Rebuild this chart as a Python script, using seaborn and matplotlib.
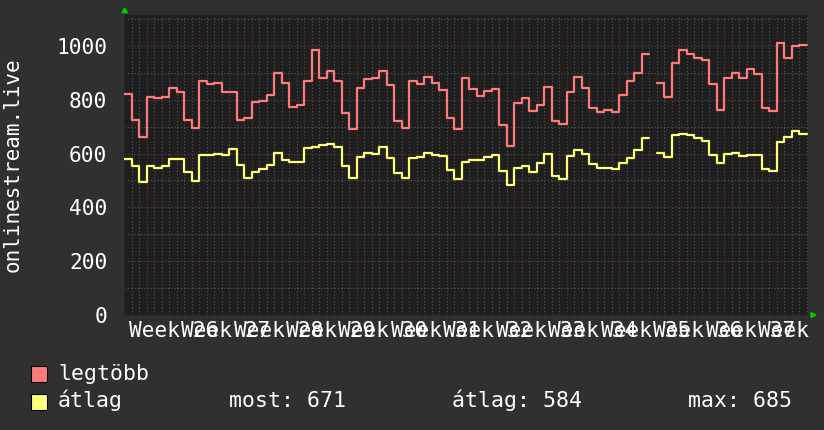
import numpy as np
import pandas as pd
import matplotlib
matplotlib.use("Agg")
import matplotlib.pyplot as plt
import seaborn as sns
from matplotlib.patches import Rectangle, Polygon
from matplotlib.transforms import Bbox, TransformedBbox

# daily values, one per day (nan = missing)
days = np.arange(91)
legtobb = [822, 725, 663, 809, 806, 810, 845, 830, 725, 694,
           871, 857, 861, 830, 828, 725, 732, 792, 794, 818,
           901, 861, 774, 781, 870, 985, 880, 908, 870, 750,
           691, 843, 876, 882, 908, 855, 722, 694, 871, 857,
           886, 864, 836, 733, 691, 880, 840, 814, 833, 840,
           706, 628, 789, 805, 760, 781, 849, 722, 710, 828,
           886, 843, 768, 756, 762, 756, 818, 869, 900, 969,
           np.nan, 861, 809, 938, 985, 970, 955, 946, 857, 762,
           880, 901, 880, 914, 897, 771, 760, 1012, 955, 998,
           1004]
atlag = [579, 554, 496, 554, 548, 554, 579, 579, 533, 499,
         595, 595, 598, 595, 618, 558, 510, 530, 543, 558,
         601, 576, 568, 568, 620, 623, 632, 636, 626, 554,
         510, 589, 601, 598, 623, 582, 529, 508, 585, 589,
         601, 595, 592, 539, 504, 568, 576, 576, 589, 595,
         535, 483, 545, 554, 533, 566, 598, 517, 504, 592,
         613, 598, 561, 548, 548, 542, 566, 583, 613, 657,
         np.nan, 603, 586, 668, 673, 668, 659, 648, 595, 564,
         598, 601, 591, 595, 595, 542, 537, 644, 663, 685,
         671]
week_labels = ["Week %d" % w for w in range(26, 39)]
series_names = ["legtöbb", "átlag"]
line_colors = {"legtöbb": "#ff7b7b", "átlag": "#ffff7b"}
stats_text = ["most: 671", "átlag: 584", "max: 685"]

# long table, split at gaps, with a closing point so each step has full width
rows = []
for name, vals in zip(series_names, [legtobb, atlag]):
    vals = np.asarray(vals, dtype=float)
    seg = 0
    prev_ok = False
    for d, v in zip(days, vals):
        if np.isnan(v):
            if prev_ok:
                rows.append((name, seg, d, vals[d - 1]))
                seg += 1
            prev_ok = False
            continue
        rows.append((name, seg, d, v))
        prev_ok = True
    if prev_ok:
        rows.append((name, seg, days[-1] + 1, vals[-1]))
df = pd.DataFrame(rows, columns=["series", "seg", "day", "value"])

W, H = 824, 430
sns.set_style("dark", {"axes.facecolor": "#1f1f1f", "figure.facecolor": "#303030",
                       "axes.edgecolor": "#262626", "text.color": "white",
                       "xtick.color": "#555555", "ytick.color": "white"})
plt.rcParams["font.family"] = ["DejaVu Sans Mono"]
FS = 15.2

fig = plt.figure(figsize=(W / 100, H / 100), dpi=100)
ax = fig.add_axes([124.5 / W, 115 / H, (808 - 124.5) / W, 300 / H])

sns.lineplot(data=df, x="day", y="value", hue="series", units="seg", estimator=None,
             palette=line_colors, drawstyle="steps-post", linewidth=1.6,
             legend=False, ax=ax, zorder=3)

ax.set_xlim(0, 91.2)
ax.set_ylim(0, 1115)
ax.set_xlabel("")
ax.set_ylabel("")

ax.set_xticks(np.arange(3, 91, 7))
ax.set_xticks(np.arange(0, 92), minor=True)
ax.set_xticklabels([])
ax.set_yticks(np.arange(0, 1001, 200))
ax.set_yticks(np.arange(100, 1101, 200), minor=True)
ax.set_yticklabels([str(v) for v in range(0, 1001, 200)], fontsize=FS, color="white")

dot = (0, (1, 2))
ax.grid(False)
ax.grid(which="minor", color="#585858", linestyle=dot, linewidth=0.8)
ax.grid(which="major", color="#7a3434", linestyle=dot, linewidth=0.8)
ax.tick_params(axis="x", which="major", length=2, color="#7a3434", direction="out")
ax.tick_params(axis="x", which="minor", length=2, color="#585858", direction="out")
ax.tick_params(axis="y", which="both", length=0, pad=12.5)
for s in ["top", "right"]:
    ax.spines[s].set_visible(False)

# week labels, centred mid-week; the image cuts the last one off
label_clip = TransformedBbox(Bbox.from_extents(0, 0, 812 / W, 1), fig.transFigure)
xt = ax.get_xaxis_transform()
for k, lab in enumerate(week_labels):
    t = ax.text(6.5 + 7 * k, -22 / 300, lab, transform=xt, ha="center", va="baseline",
                fontsize=FS, color="white")
    t.set_clip_box(label_clip)
    t.set_clip_on(True)

def px(x, y):
    return (x / W, 1 - y / H)

fig.text(*px(13, 165), "onlinestream.live", rotation=90, ha="center", va="center",
         fontsize=15, color="white")

# arrows on the axes
fig.add_artist(Polygon([px(122, 12.7), px(127.5, 12.7), px(124.7, 8)], closed=True,
                       transform=fig.transFigure, color="#00cc00"))
fig.add_artist(Polygon([px(811, 312.5), px(811, 317.5), px(816, 315)], closed=True,
                       transform=fig.transFigure, color="#00cc00"))

# legend
for name, ytop, ybase in [("legtöbb", 365.5, 380), ("átlag", 393.5, 407)]:
    x0, y0 = px(31.5, ytop + 16)
    fig.add_artist(Rectangle((x0, y0), 15.5 / W, 16 / H, transform=fig.transFigure,
                             facecolor=line_colors[name], edgecolor="black", linewidth=0.8))
    fig.text(*px(58, ybase), name, ha="left", va="baseline", fontsize=15.5, color="white")
for txt, x in zip(stats_text, [229, 452, 688]):
    fig.text(*px(x, 407), txt, ha="left", va="baseline", fontsize=15.5, color="white")

fig.savefig("out.png", dpi=100, facecolor=fig.get_facecolor())
